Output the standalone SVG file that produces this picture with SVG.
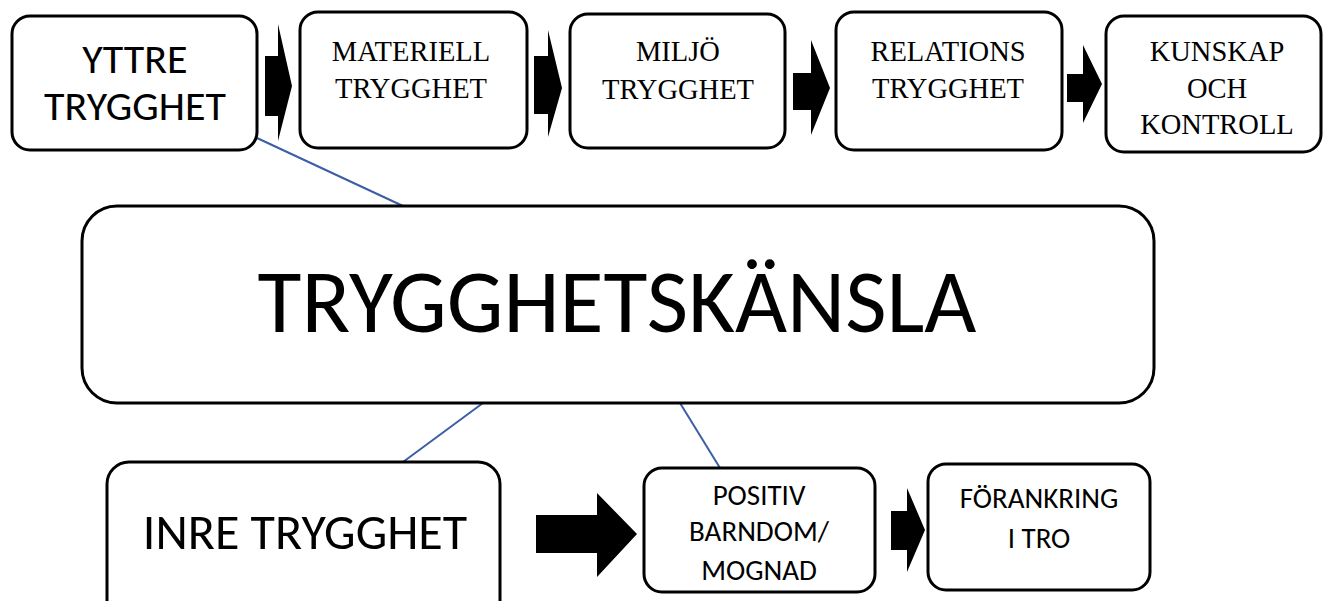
<svg xmlns="http://www.w3.org/2000/svg" width="1324" height="601" viewBox="0 0 1324 601">
<style>
.box{fill:#fff;stroke:#000;stroke-width:3}
.arr{fill:#000;stroke:none}
.con{stroke:#3b5ea6;stroke-width:2;fill:none}
.serif{font-family:"Liberation Serif","Times New Roman",serif;font-size:28.5px;fill:#000;text-anchor:middle}
.sans{font-family:Carlito,"Open Sans","Noto Sans",sans-serif;fill:#000;text-anchor:middle}
</style>
<rect width="1324" height="601" fill="#fff"/>
<g id="connectors">
<line class="con" x1="257" y1="138" x2="403" y2="206"/>
<line class="con" x1="483" y1="403" x2="403" y2="462"/>
<line class="con" x1="680" y1="403" x2="720" y2="468"/>
</g>
<g id="arrows">
<polygon class="arr" points="265,56 278,56 278,24 292,86 278,141 278,116 265,116"/>
<polygon class="arr" points="534,56 548,56 548,30 562,88 548,137 548,114 534,114"/>
<polygon class="arr" points="793,73 811,73 811,40 830,88 811,135 811,110 793,110"/>
<polygon class="arr" points="1067,74 1083,74 1083,45 1102,84 1083,123 1083,102 1067,102"/>
<polygon class="arr" points="536,515 597,515 597,493 637,534 597,577 597,553 536,553"/>
<polygon class="arr" points="891,511 907,511 907,488 925,530 907,572 907,550 891,550"/>
</g>
<g id="yttre">
<rect class="box" x="12" y="16" width="245" height="134" rx="18"/>
<text class="sans" font-size="42" x="135" y="73">YTTRE</text>
<text class="sans" font-size="42" x="135" y="120">TRYGGHET</text>
</g>
<g id="materiell">
<rect class="box" x="300" y="12" width="227" height="136" rx="18"/>
<text class="serif" x="411" y="61">MATERIELL</text>
<text class="serif" x="411" y="98">TRYGGHET</text>
</g>
<g id="miljo">
<rect class="box" x="570" y="14" width="215" height="134" rx="18"/>
<text class="serif" x="678" y="61">MILJÖ</text>
<text class="serif" x="678" y="99">TRYGGHET</text>
</g>
<g id="relations">
<rect class="box" x="836" y="12" width="226" height="138" rx="18"/>
<text class="serif" x="948" y="61">RELATIONS</text>
<text class="serif" x="948" y="98">TRYGGHET</text>
</g>
<g id="kunskap">
<rect class="box" x="1106" y="16" width="215" height="136" rx="18"/>
<text class="serif" x="1217" y="61">KUNSKAP</text>
<text class="serif" x="1217" y="98">OCH</text>
<text class="serif" x="1217" y="134">KONTROLL</text>
</g>
<g id="trygghetskansla">
<rect class="box" x="82" y="206" width="1072" height="197" rx="35"/>
<text class="sans" font-size="90" x="617" y="332">TRYGGHETSKÄNSLA</text>
</g>
<g id="inre">
<rect class="box" x="107" y="462" width="393" height="160" rx="22"/>
<text class="sans" font-size="50" x="305" y="549">INRE TRYGGHET</text>
</g>
<g id="positiv">
<rect class="box" x="644" y="468" width="231" height="124" rx="18"/>
<text class="sans" font-size="29" x="759" y="505">POSITIV</text>
<text class="sans" font-size="29" x="759" y="541">BARNDOM/</text>
<text class="sans" font-size="29" x="759" y="580">MOGNAD</text>
</g>
<g id="forankring">
<rect class="box" x="928" y="464" width="222" height="126" rx="18"/>
<text class="sans" font-size="29" x="1039" y="508">FÖRANKRING</text>
<text class="sans" font-size="29" x="1039" y="548">I TRO</text>
</g>
</svg>
